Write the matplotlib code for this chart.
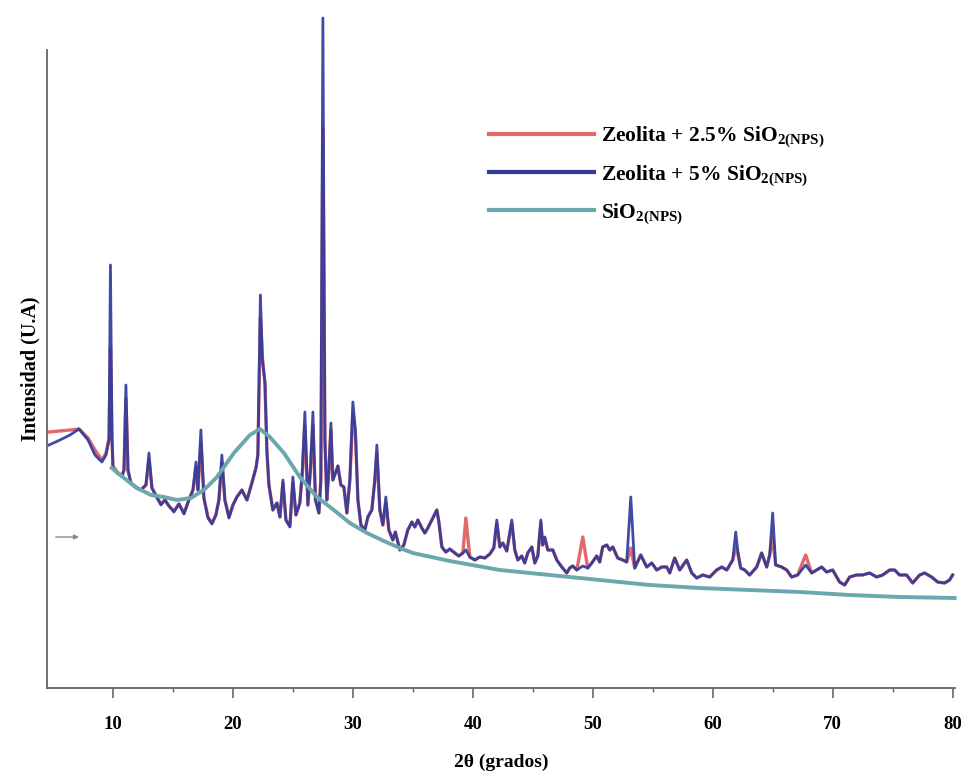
import matplotlib
matplotlib.use("Agg")
import matplotlib.pyplot as plt
from matplotlib.lines import Line2D

plt.rcParams["font.family"] = ["Liberation Serif", "DejaVu Serif"]
plt.rcParams["mathtext.fontset"] = "custom"
plt.rcParams["mathtext.rm"] = "Liberation Serif:bold"
plt.rcParams["mathtext.bf"] = "Liberation Serif:bold"
plt.rcParams["mathtext.it"] = "Liberation Serif:bold"

# 2-theta grid shared by both zeolite patterns
two_theta = [
    4.67, 5.58, 6.42, 7.17, 7.92, 8.50, 9.08, 9.42, 9.67, 9.79, 9.92, 10.00,
    10.42, 10.75, 10.92, 11.08, 11.25, 11.50, 11.92, 12.33, 12.75, 13.00, 13.25,
    13.58, 14.00, 14.33, 14.67, 15.08, 15.50, 15.92, 16.33, 16.67, 16.92, 17.08,
    17.33, 17.58, 17.92, 18.25, 18.58, 18.83, 19.08, 19.33, 19.67, 20.00, 20.33,
    20.75, 21.17, 21.58, 21.92, 22.08, 22.29, 22.46, 22.67, 22.83, 23.00, 23.33,
    23.67, 23.92, 24.17, 24.42, 24.75, 25.00, 25.25, 25.58, 25.79, 26.00, 26.25,
    26.46, 26.67, 26.88, 27.17, 27.33, 27.50, 27.67, 27.83, 28.00, 28.17, 28.33,
    28.58, 28.75, 29.00, 29.25, 29.50, 29.75, 30.00, 30.21, 30.42, 30.67, 31.00,
    31.25, 31.58, 31.83, 32.00, 32.25, 32.50, 32.75, 33.00, 33.33, 33.54, 33.92,
    34.25, 34.58, 34.92, 35.17, 35.42, 35.75, 36.00, 36.25, 36.58, 37.00, 37.17,
    37.42, 37.75, 38.08, 38.50, 38.83, 39.17, 39.42, 39.75, 40.17, 40.58, 41.00,
    41.42, 41.75, 42.00, 42.25, 42.50, 42.83, 43.25, 43.50, 43.75, 44.08, 44.33,
    44.58, 44.92, 45.17, 45.42, 45.67, 45.83, 46.00, 46.25, 46.67, 47.00, 47.42,
    47.83, 48.08, 48.33, 48.67, 49.17, 49.58, 49.92, 50.33, 50.58, 50.83, 51.17,
    51.42, 51.67, 52.08, 52.50, 52.83, 53.17, 53.50, 54.00, 54.50, 54.92, 55.33,
    55.75, 56.17, 56.42, 56.83, 57.25, 57.83, 58.25, 58.67, 59.17, 59.75, 60.33,
    60.75, 61.17, 61.67, 61.92, 62.08, 62.33, 62.67, 63.08, 63.67, 64.08, 64.50,
    64.75, 65.00, 65.25, 65.75, 66.17, 66.58, 67.08, 67.75, 68.25, 68.67, 69.08,
    69.50, 70.00, 70.58, 71.00, 71.42, 72.00, 72.50, 73.08, 73.67, 74.17, 74.75,
    75.17, 75.58, 76.17, 76.67, 77.25, 77.67, 78.25, 78.75, 79.33, 79.75, 80.00,
]

# Zeolita + 5% SiO2(NPS)
zeo_5 = [
    243, 248, 253, 259, 248, 233, 226, 233, 248, 423, 248, 220,
    214, 212, 218, 303, 218, 204, 200, 198, 203, 235, 200,
    192, 183, 188, 182, 176, 184, 174, 188, 198, 226, 198,
    258, 190, 170, 164, 173, 188, 233, 188, 170, 183, 191,
    198, 188, 205, 220, 233, 393, 328, 305, 238, 203, 178,
    185, 171, 208, 168, 161, 211, 173, 185, 218, 276, 183,
    218, 276, 188, 175, 208, 670, 248, 188, 218, 265, 208,
    216, 222, 203, 201, 175, 208, 286, 258, 188, 163, 158,
    171, 178, 208, 243, 178, 163, 191, 158, 148, 156, 138,
    143, 158, 166, 161, 168, 160, 155, 160, 168, 178, 166,
    141, 136, 139, 135, 132, 135, 138, 131, 128, 131, 130,
    134, 140, 168, 141, 145, 137, 168, 138, 128, 132, 125,
    135, 141, 125, 132, 168, 143, 151, 138, 138, 128, 121,
    115, 120, 122, 118, 122, 120, 125, 132, 126, 141, 143,
    138, 141, 130, 128, 126, 191, 120, 133, 121, 125, 118,
    121, 121, 115, 130, 118, 128, 115, 110, 113, 111, 118,
    121, 118, 128, 156, 138, 120, 118, 113, 121, 135, 121,
    133, 175, 123, 121, 118, 111, 113, 123, 115, 118, 121,
    116, 118, 106, 103, 111, 113, 113, 115, 111, 113, 118,
    118, 113, 113, 105, 113, 115, 111, 106, 105, 108, 113,
]

# Zeolita + 2.5% SiO2(NPS)
zeo_25 = [
    256, 257, 258, 259, 250, 238, 228, 235, 250, 340, 250, 222,
    215, 212, 218, 290, 218, 205, 201, 198, 203, 228, 200,
    193, 184, 188, 182, 177, 184, 175, 188, 198, 220, 198,
    245, 190, 171, 165, 173, 188, 225, 188, 171, 183, 191,
    198, 188, 205, 220, 233, 370, 330, 305, 238, 203, 178,
    185, 171, 205, 168, 162, 205, 173, 185, 215, 262, 183,
    218, 262, 188, 175, 208, 560, 248, 188, 218, 258, 208,
    216, 222, 203, 201, 175, 208, 275, 255, 188, 163, 158,
    171, 178, 208, 235, 178, 163, 185, 158, 148, 156, 138,
    143, 158, 166, 161, 168, 160, 155, 160, 168, 178, 166,
    141, 136, 139, 135, 132, 135, 170, 131, 128, 131, 130,
    134, 140, 165, 141, 145, 137, 165, 138, 128, 132, 125,
    135, 141, 125, 132, 165, 143, 150, 138, 138, 128, 121,
    115, 120, 122, 118, 151, 120, 125, 132, 126, 141, 143,
    138, 141, 130, 128, 126, 140, 120, 133, 121, 125, 118,
    121, 121, 115, 130, 118, 128, 115, 110, 113, 111, 118,
    121, 118, 128, 140, 135, 120, 118, 113, 121, 135, 121,
    133, 150, 123, 121, 118, 111, 113, 133, 115, 118, 121,
    116, 118, 106, 103, 111, 113, 113, 115, 111, 113, 118,
    118, 113, 113, 105, 113, 115, 111, 106, 105, 108, 113,
]

# SiO2(NPS) pattern
sio2_theta = [
    9.90, 10.92, 12.00, 13.17, 14.25, 15.33, 16.50, 17.58, 18.67, 20.08,
    21.42, 22.25, 23.08, 24.25, 25.58, 27.00, 28.42, 29.75, 31.17, 32.58,
    33.92, 35.00, 38.08, 42.25, 46.42, 50.58, 54.75, 58.92, 63.08, 67.25,
    71.42, 75.58, 80.17,
]
sio2 = [
    220, 210, 200, 193, 191, 188, 190, 198, 211, 235,
    253, 259, 251, 235, 211, 191, 178, 165, 155, 147,
    140, 135, 127, 118, 113, 108, 103, 100, 98, 96,
    93, 91, 90,
]

x_ticks = [10, 20, 30, 40, 50, 60, 70, 80]
x_minor = [15, 25, 35, 45, 55, 65, 75]

label_25 = r"Zeolita + 2.5% SiO$_{2(NPS)}$"
label_5 = r"Zeolita + 5% SiO$_{2(NPS)}$"
label_sio2 = r"SiO$_{2(NPS)}$"

c_red = "#e2686a"
c_blue = "#313b9c"
c_teal = "#6aa8ae"

fig = plt.figure(figsize=(9.66, 7.77), dpi=100)
ax = fig.add_axes([47 / 966, 89 / 777, 908 / 966, 638 / 777])

ax.plot(two_theta, zeo_25, color=c_red, lw=2.4, zorder=2, clip_on=False)
ax.plot(two_theta, zeo_5, color=c_blue, lw=2.0, alpha=0.92, zorder=3, clip_on=False)
ax.plot(sio2_theta, sio2, color=c_teal, lw=2.8, zorder=4, clip_on=False)

ax.set_xlim(4.5, 80.2)
ax.set_ylim(0, 638)

for side in ("top", "right"):
    ax.spines[side].set_visible(False)
for side in ("left", "bottom"):
    ax.spines[side].set_color("#666666")
    ax.spines[side].set_linewidth(1.3)

ax.set_yticks([])
ax.set_xticks(x_ticks)
ax.set_xticks(x_minor, minor=True)
ax.tick_params(axis="x", which="major", direction="out", length=7, width=1.2,
               color="#666666", pad=13, labelsize=13.5)
ax.tick_params(axis="x", which="minor", direction="out", length=3, width=1.0,
               color="#666666")
for lbl in ax.get_xticklabels():
    lbl.set_fontweight("bold")

ax.set_xlabel("2θ (grados)", fontsize=14, fontweight="bold", labelpad=15)
ax.set_ylabel("Intensidad (U.A)", fontsize=14.5, fontweight="bold", labelpad=5)

# small reference arrow near the left axis
ax.annotate("", xy=(7.4, 151), xytext=(5.0, 151),
            arrowprops=dict(arrowstyle="-|>", color="#888888", lw=1.0,
                            mutation_scale=7))

handles = [
    Line2D([], [], color=c_red, lw=3),
    Line2D([], [], color=c_blue, lw=3),
    Line2D([], [], color=c_teal, lw=3),
]
leg = ax.legend(handles, [label_25, label_5, label_sio2],
                loc="upper left", bbox_to_anchor=(433 / 908, 1 - 66 / 638),
                frameon=False, fontsize=15.5, handlelength=4.9,
                handletextpad=0.3, labelspacing=0.62, borderaxespad=0)
for t in leg.get_texts():
    t.set_fontweight("bold")

fig.savefig("out.png", dpi=100)
